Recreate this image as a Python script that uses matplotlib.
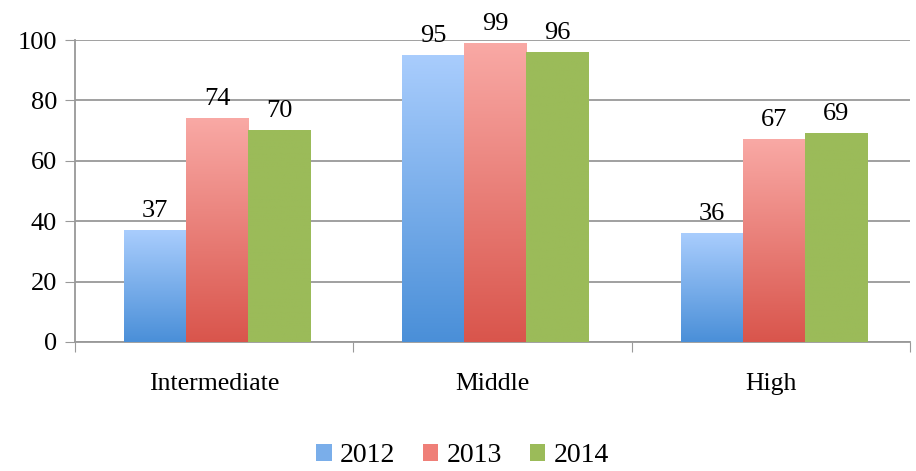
#!/usr/bin/env python3

import numpy as np
import matplotlib
matplotlib.use('Agg')
import matplotlib.pyplot as plt
from matplotlib.colors import LinearSegmentedColormap
from matplotlib.patches import Patch

categories = ['Intermediate', 'Middle', 'High']
years = ['2012', '2013', '2014']
values_2012 = [37, 95, 36]
values_2013 = [74, 99, 67]
values_2014 = [70, 96, 69]

# gradient colours, top then bottom
GRADIENTS = [('#a9cdfd', '#4a8fd8'), ('#f9a9a5', '#d9554c'), ('#9bbb59', '#9bbb59')]
LEGEND_COLORS = ['#7aaeea', '#ef7f78', '#9bbb59']
BAR_WIDTH = 0.223
GRID = '#999999'

plt.rcParams['font.family'] = ['Liberation Serif', 'DejaVu Serif']

fig = plt.figure(figsize=(9.16, 4.71), dpi=100)
ax = fig.add_axes([0.082, 0.274, 0.9115, 0.641])

series = [values_2012, values_2013, values_2014]
x = np.arange(len(categories))
for i, vals in enumerate(series):
    top, bottom = GRADIENTS[i]
    cmap = LinearSegmentedColormap.from_list(f'g{i}', [bottom, top])
    grad = np.linspace(0, 1, 256).reshape(-1, 1)
    offset = (i - 1) * BAR_WIDTH + 0.01
    bars = ax.bar(x + offset, vals, BAR_WIDTH, color='none', zorder=3)
    for bar, v in zip(bars, vals):
        x0 = bar.get_x()
        # gradient through each bar
        ax.imshow(grad, cmap=cmap, origin='lower', aspect='auto',
                  extent=[x0, x0 + BAR_WIDTH, 0, v], zorder=3)
        ax.annotate(f'{v}', (x0 + BAR_WIDTH / 2, v), xytext=(0, 6),
                    textcoords='offset points', ha='center', va='bottom',
                    fontsize=19, zorder=4)

ax.set_xlim(-0.5, 2.5)
ax.set_ylim(0, 100)
ax.set_yticks(range(0, 101, 20))
ax.tick_params(axis='y', labelsize=19, length=7, color=GRID, pad=6)
ax.yaxis.grid(True, color=GRID, linewidth=1.3, zorder=0)
ax.set_axisbelow(True)

ax.set_xticks([-0.5, 0.5, 1.5, 2.5])
ax.set_xticklabels([])
ax.set_xticks(x, minor=True)
ax.set_xticklabels(categories, minor=True, fontsize=18.5)
ax.tick_params(axis='x', which='major', length=7, color=GRID)
ax.tick_params(axis='x', which='minor', length=0, pad=22)

for side in ('top', 'right'):
    ax.spines[side].set_visible(False)
for side in ('left', 'bottom'):
    ax.spines[side].set_color(GRID)
    ax.spines[side].set_linewidth(1.3)

handles = [Patch(facecolor=c, label=y) for c, y in zip(LEGEND_COLORS, years)]
fig.legend(handles=handles, loc='center', bbox_to_anchor=(0.505, 0.032), ncol=3,
           frameon=False, fontsize=20, handlelength=0.55, handleheight=0.55,
           handletextpad=0.3, columnspacing=1.0)

fig.savefig('out.png', dpi=100)
